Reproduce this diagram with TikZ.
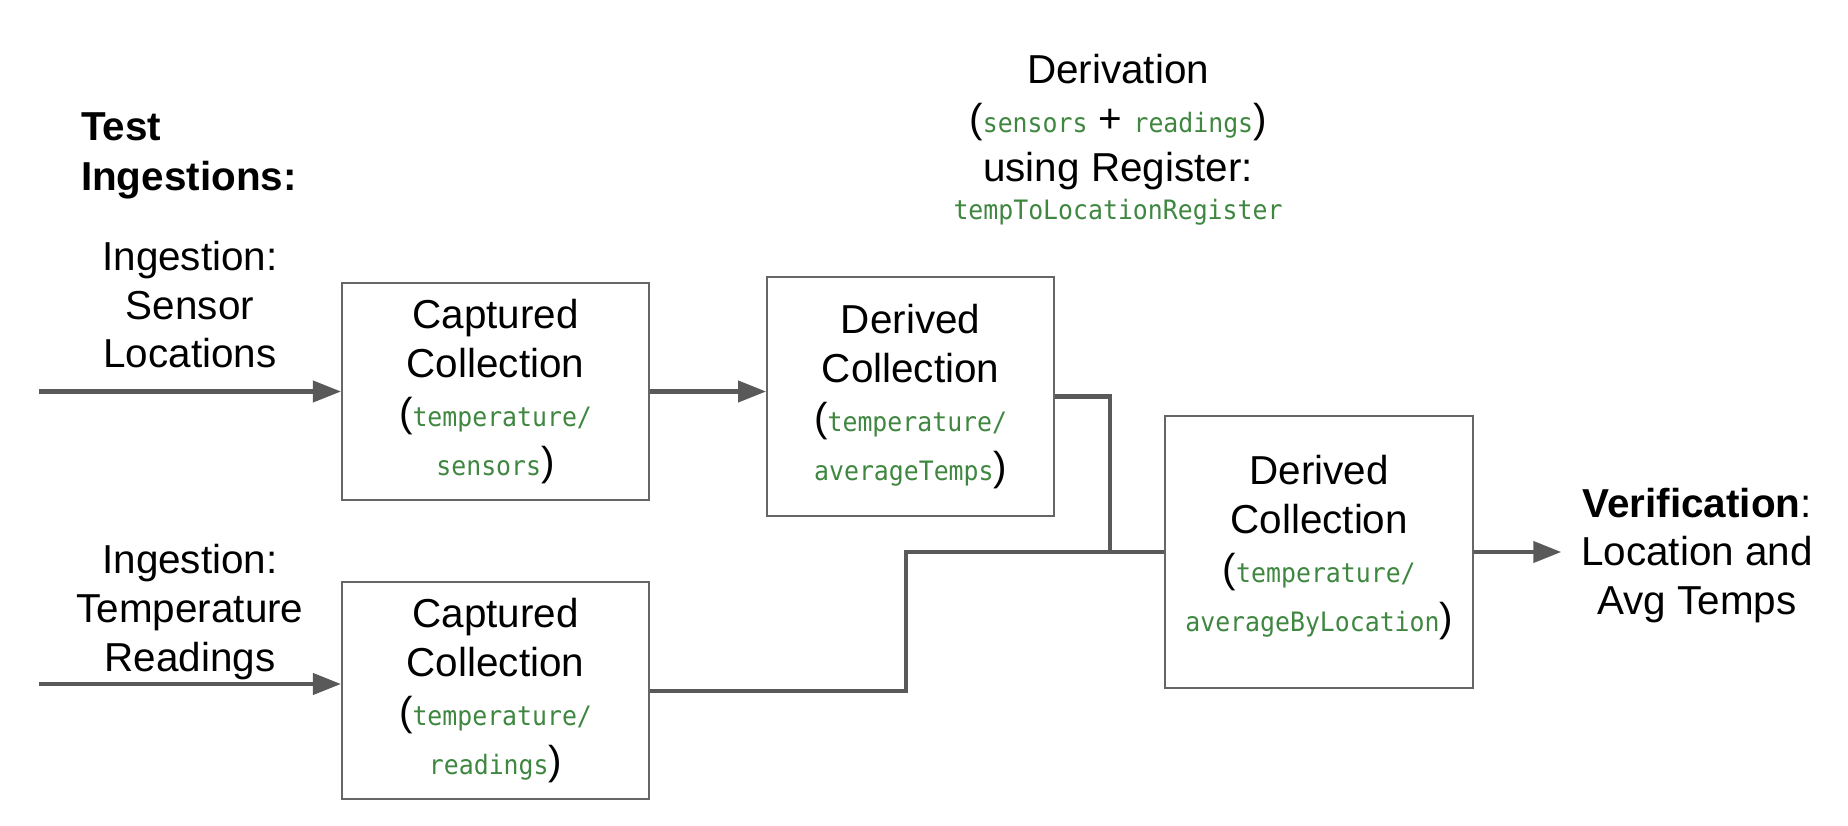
\documentclass[tikz,border=0pt]{standalone}
\usepackage{fontspec}
\setmainfont{Liberation Sans}
\newfontfamily\codefont[FakeStretch=0.93]{DejaVu Sans Mono}
\usetikzlibrary{positioning,arrows.meta}
\definecolor{codegreen}{HTML}{3F8740}
\definecolor{linegray}{HTML}{595959}
\newcommand{\codetxt}[1]{{\codefont\fontsize{7.6}{9}\selectfont\color{codegreen}#1}}
\tikzset{every picture/.style={line width=0.6pt}}

\begin{document}
\begin{tikzpicture}[node distance=1.1cm, font=\fontsize{11.5}{13.9}\selectfont,
    box/.style={draw=black!60, line width=0.6pt, align=center, minimum width=3.07cm, minimum height=2.17cm, inner sep=2pt},
    flow/.style={draw=linegray, line width=1.15pt},
    arrowflow/.style={flow, -{Triangle[length=0.28cm,width=0.21cm]}},
    tag/.style={align=center, inner sep=0pt}]
\useasboundingbox (0,0) rectangle (18.48,-8.26);

    % Collections
\node[box] (sensors) at (4.955,-3.915) {Captured\\Collection\\(\codetxt{temperature/}\\\codetxt{sensors})};
\node[box, below=0.8cm of sensors] (readings) {Captured\\Collection\\(\codetxt{temperature/}\\\codetxt{readings})};
\node[box, minimum width=2.87cm, minimum height=2.39cm, right=1.16cm of sensors, yshift=-0.05cm] (avgtemps) {Derived\\Collection\\(\codetxt{temperature/}\\\codetxt{averageTemps})};
\node[box, minimum width=3.08cm, minimum height=2.72cm, right=1.09cm of avgtemps, yshift=-1.555cm] (avgloc) {Derived\\Collection\\(\codetxt{temperature/}\\\codetxt{averageByLocation})\\[-9pt]\mbox{}};

    % Labels
\node[tag, align=left, anchor=north west, font=\fontsize{11.5}{14.2}\selectfont\bfseries] (testlbl) at (0.80,-1.115) {Test\\Ingestions:};
\node[tag, anchor=north] (derivation) at (11.18,-0.53) {Derivation\\(\codetxt{sensors} + \codetxt{readings})\\using Register:\\[-3pt]\codetxt{tempToLocationRegister}};
\node[tag, right=1.06cm of avgloc, yshift=-0.035cm] (verify) {\textbf{Verification}:\\Location and\\Avg Temps};

    % Ingestion inputs
\coordinate (in1) at (0.39,-3.915);
\coordinate (in2) at (0.39,-6.84);
    \draw[arrowflow] (in1) -- node[tag, above=6pt] (sensorlbl) {Ingestion:\\Sensor\\Locations} (sensors);
    \draw[arrowflow] (in2) -- node[tag, above=0.7pt] (readinglbl) {Ingestion:\\Temperature\\Readings} (in2 -| readings.west);

    % Connections
    \draw[arrowflow] (sensors.east) -- (sensors.east -| avgtemps.west);
    \draw[flow] (avgtemps.east) -- ++(0.55,0) |- (avgloc.west);
    \draw[flow] (readings.east) -- ++(2.56,0) |- (avgloc.west);
    \draw[arrowflow, shorten >=0.19cm] (avgloc.east) -- (avgloc.east -| verify.west);
\end{tikzpicture}
\end{document}
